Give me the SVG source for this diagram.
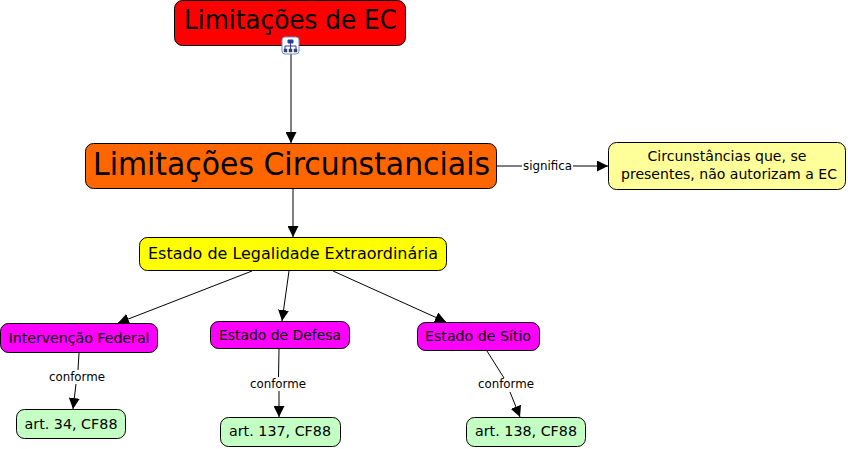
<svg xmlns="http://www.w3.org/2000/svg" width="848" height="449" viewBox="0 0 848 449">
<style>
text{font-family:"DejaVu Sans",Verdana,sans-serif;text-anchor:middle;fill:#000}
.n{stroke:#000;stroke-width:1}
.c{fill:none;stroke:#000;stroke-width:1;marker-end:url(#a)}
.l{fill:none;stroke:#000;stroke-width:1}
.lb{font-size:12px}
.m{font-size:14px}
</style>
<defs><marker id="a" markerUnits="userSpaceOnUse" markerWidth="12" markerHeight="11" refX="11" refY="5.500" orient="auto"><path d="M0 0L11 5.500L0 11z" fill="#000"/></marker></defs>
<rect width="848" height="449" fill="#fff"/>
<g id="connectors">
<path class="c" d="M291 54V143"/>
<path class="l" d="M497 166H522"/><path class="c" d="M573 166H608"/>
<path class="c" d="M293 189V237"/>
<path class="c" d="M252 271L118 323"/>
<path class="c" d="M289 271L282 321"/>
<path class="c" d="M333 271L446 322"/>
<path class="l" d="M79 353L78 370"/><path class="c" d="M76 384L73 409"/>
<path class="l" d="M279 349L278.500 377"/><path class="c" d="M279 391V417"/>
<path class="l" d="M487 351L504 378"/><path class="c" d="M510 392L520 417"/>
<text class="lb" x="547.500" y="170" textLength="49" lengthAdjust="spacingAndGlyphs">significa</text>
<text class="lb" x="77" y="381" textLength="56" lengthAdjust="spacingAndGlyphs">conforme</text>
<text class="lb" x="278" y="388" textLength="56" lengthAdjust="spacingAndGlyphs">conforme</text>
<text class="lb" x="506" y="388" textLength="56" lengthAdjust="spacingAndGlyphs">conforme</text>
</g>
<g id="n1"><rect class="n" x="174.500" y="0.500" width="231" height="45" rx="8" fill="#f00"/><text x="290.500" y="29" font-size="26" textLength="213" lengthAdjust="spacingAndGlyphs">Limitações de EC</text></g>
<g id="icon"><rect x="282" y="37" width="17" height="17" rx="3" fill="#fff" stroke="#6f8fc8"/><path d="M288 40H293V43H288zM285 46H296M285 46V49M296 46V49M290.500 43V49" fill="#2c3f9c" stroke="#2c3f9c"/><path d="M284 49H287V52H284zM289 49H292V52H289zM294 49H297V52H294z" fill="#444" stroke="#2c3f9c" stroke-width=".5"/></g>
<g id="n2"><rect class="n" x="85.500" y="143.500" width="411" height="45" rx="8" fill="#f60"/><text x="291.500" y="175" font-size="32" textLength="397" lengthAdjust="spacingAndGlyphs">Limitações Circunstanciais</text></g>
<g id="n3"><rect class="n" x="608.500" y="142.500" width="237" height="47" rx="8" fill="#ff9"/><text class="m" x="727" y="161" textLength="159" lengthAdjust="spacingAndGlyphs">Circunstâncias que, se</text><text class="m" x="729" y="179" textLength="216" lengthAdjust="spacingAndGlyphs">presentes, não autorizam a EC</text></g>
<g id="n4"><rect class="n" x="139.500" y="237.500" width="307" height="33" rx="8" fill="#ff0"/><text x="293" y="259" font-size="15" textLength="290" lengthAdjust="spacingAndGlyphs">Estado de Legalidade Extraordinária</text></g>
<g id="n5"><rect class="n" x="0.500" y="323.500" width="157" height="29" rx="8" fill="#f0f"/><text class="m" x="79" y="342.500" textLength="141" lengthAdjust="spacingAndGlyphs">Intervenção Federal</text></g>
<g id="n6"><rect class="n" x="210.500" y="321.500" width="139" height="27" rx="8" fill="#f0f"/><text class="m" x="280" y="340" textLength="122" lengthAdjust="spacingAndGlyphs">Estado de Defesa</text></g>
<g id="n7"><rect class="n" x="417.500" y="322.500" width="122" height="28" rx="8" fill="#f0f"/><text class="m" x="478" y="341" textLength="106" lengthAdjust="spacingAndGlyphs">Estado de Sítio</text></g>
<g id="n8"><rect class="n" x="16.500" y="409.500" width="109" height="29" rx="8" fill="#c4ffc4"/><text class="m" x="71" y="429" textLength="93" lengthAdjust="spacingAndGlyphs">art. 34, CF88</text></g>
<g id="n9"><rect class="n" x="220.500" y="417.500" width="120" height="29" rx="8" fill="#c4ffc4"/><text class="m" x="280" y="436" textLength="102" lengthAdjust="spacingAndGlyphs">art. 137, CF88</text></g>
<g id="n10"><rect class="n" x="466.500" y="417.500" width="119" height="29" rx="8" fill="#c4ffc4"/><text class="m" x="526" y="436" textLength="102" lengthAdjust="spacingAndGlyphs">art. 138, CF88</text></g>
</svg>
